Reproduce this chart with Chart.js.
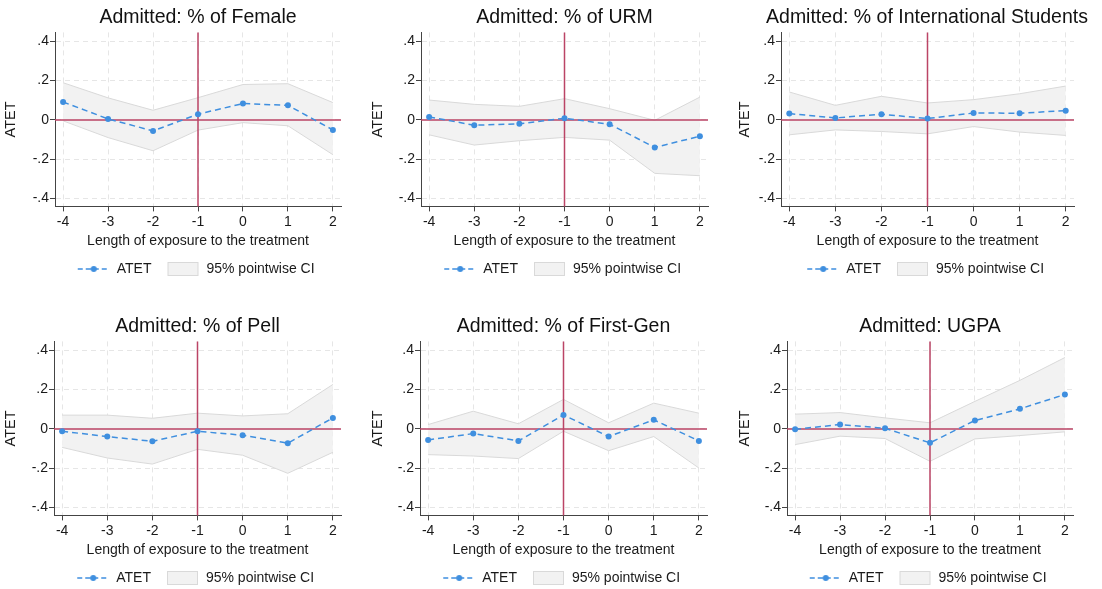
<!DOCTYPE html>
<html>
<head>
<meta charset="utf-8">
<script src="https://cdn.jsdelivr.net/npm/chart.js@4.4.1/dist/chart.umd.min.js"></script>
<style>
  html, body { margin: 0; padding: 0; background: #fff; overflow: hidden; }
  #wrap { position: relative; width: 1102px; height: 589px; overflow: hidden; }
  canvas { position: absolute; }
</style>
</head>
<body>
<div id="wrap"></div>
<script>
// exposure lengths and axis ticks
const xVals = [-4, -3, -2, -1, 0, 1, 2];
const yTicks = [-0.4, -0.2, 0, 0.2, 0.4];

const titles = [
  "Admitted: % of Female",
  "Admitted: % of URM",
  "Admitted: % of International Students",
  "Admitted: % of Pell",
  "Admitted: % of First-Gen",
  "Admitted: UGPA"
];

// point estimates and 95% CI bounds
const femaleAtet = [0.091, 0.005, -0.056, 0.029, 0.083, 0.074, -0.051];
const femaleLow  = [-0.005, -0.090, -0.157, -0.052, -0.014, -0.030, -0.177];
const femaleHigh = [0.189, 0.112, 0.049, 0.113, 0.180, 0.184, 0.088];

const urmAtet = [0.015, -0.027, -0.020, 0.008, -0.022, -0.140, -0.083];
const urmLow  = [-0.076, -0.128, -0.106, -0.089, -0.103, -0.272, -0.284];
const urmHigh = [0.101, 0.079, 0.069, 0.108, 0.057, -0.002, 0.116];

const intlAtet = [0.032, 0.010, 0.029, 0.007, 0.035, 0.034, 0.047];
const intlLow  = [-0.076, -0.051, -0.059, -0.071, -0.034, -0.062, -0.079];
const intlHigh = [0.142, 0.074, 0.120, 0.086, 0.103, 0.133, 0.172];

const pellAtet = [-0.012, -0.039, -0.063, -0.012, -0.032, -0.073, 0.056];
const pellLow  = [-0.094, -0.148, -0.179, -0.104, -0.134, -0.226, -0.119];
const pellHigh = [0.070, 0.070, 0.054, 0.080, 0.066, 0.077, 0.226];

const firstGenAtet = [-0.056, -0.024, -0.061, 0.071, -0.039, 0.046, -0.061];
const firstGenLow  = [-0.131, -0.138, -0.151, -0.012, -0.111, -0.039, -0.199];
const firstGenHigh = [0.022, 0.090, 0.026, 0.150, 0.031, 0.131, 0.080];

const ugpaAtet = [-0.002, 0.022, 0.003, -0.071, 0.043, 0.102, 0.175];
const ugpaLow  = [-0.080, -0.037, -0.049, -0.165, -0.051, -0.034, -0.015];
const ugpaHigh = [0.075, 0.083, 0.056, 0.031, 0.140, 0.247, 0.363];

const series = [
  [femaleAtet, femaleLow, femaleHigh],
  [urmAtet, urmLow, urmHigh],
  [intlAtet, intlLow, intlHigh],
  [pellAtet, pellLow, pellHigh],
  [firstGenAtet, firstGenLow, firstGenHigh],
  [ugpaAtet, ugpaLow, ugpaHigh]
];

// panel placement: canvas left/top/width, plot area left/right inside canvas
// (the long title of panel 3 is wider than its plot, so its canvas is widened
//  and the title spans the whole canvas)
const panelBox = [
  { left: 0,   top: 0,   w: 367, plotL: 55, plotR: 341 },
  { left: 367, top: 0,   w: 367, plotL: 54, plotR: 341 },
  { left: 734, top: 0,   w: 386, plotL: 47, plotR: 340, wideTitle: true },
  { left: 0,   top: 309, w: 367, plotL: 54, plotR: 341 },
  { left: 367, top: 309, w: 367, plotL: 53, plotR: 340 },
  { left: 734, top: 309, w: 368, plotL: 53, plotR: 339 }
];

const FONT = "'Liberation Sans', Arial, Helvetica, sans-serif";
const BLUE = "#3f8fdf";
const REF = "#bb4466";
const CI_FILL = "#f2f2f2";
const CI_LINE = "#d9d9d9";
const AXIS = "#444";
const TEXT = "#1a1a1a";

Chart.defaults.font.family = FONT;
Chart.defaults.color = TEXT;

/* legend icons */
function iconAtet() {
  const c = document.createElement("canvas");
  c.width = 40; c.height = 14;
  const g = c.getContext("2d");
  g.strokeStyle = BLUE;
  g.lineWidth = 1.5;
  g.setLineDash([5, 3]);
  g.beginPath();
  g.moveTo(8, 7); g.lineTo(40, 7);
  g.stroke();
  g.fillStyle = BLUE;
  g.beginPath();
  g.arc(24, 7, 3, 0, Math.PI * 2);
  g.fill();
  return c;
}

function iconCI() {
  const c = document.createElement("canvas");
  c.width = 40; c.height = 14;
  const g = c.getContext("2d");
  g.fillStyle = CI_FILL;
  g.strokeStyle = CI_LINE;
  g.lineWidth = 1;
  g.fillRect(8.5, 0.5, 30, 13);
  g.strokeRect(8.5, 0.5, 30, 13);
  return c;
}

const atetIcon = iconAtet();
const ciIcon = iconCI();

/* reference lines at x = -1 and y = 0, drawn under the ATET line */
const refLines = {
  id: "refLines",
  beforeDatasetDraw(chart, args) {
    if (args.index !== 2) return;
    const { ctx, chartArea, scales } = chart;
    const xp = scales.x.getPixelForValue(-1);
    const yp = scales.y.getPixelForValue(0);
    ctx.save();
    ctx.strokeStyle = REF;
    ctx.lineWidth = 1.5;
    ctx.beginPath();
    ctx.moveTo(chartArea.left, yp); ctx.lineTo(chartArea.right, yp);
    ctx.moveTo(xp, chartArea.top); ctx.lineTo(xp, chartArea.bottom);
    ctx.stroke();
    ctx.restore();
  }
};

function fmtY(v) {
  if (Math.abs(v) < 1e-9) return "0";
  const s = Math.abs(v).toFixed(1).replace(/^0/, "");
  return (v < 0 ? "-" : "") + s;
}

function toPoints(arr) {
  return xVals.map((x, i) => ({ x: x, y: arr[i] }));
}

function makePanel(i) {
  const box = panelBox[i];
  const [atet, low, high] = series[i];
  const cv = document.createElement("canvas");
  cv.width = box.w; cv.height = 290;
  cv.style.left = box.left + "px";
  cv.style.top = box.top + "px";
  document.getElementById("wrap").appendChild(cv);

  const gridOpts = {
    color: "#e6e6e6",
    lineWidth: 1,
    drawTicks: true,
    tickLength: 5,
    tickColor: AXIS,
    tickWidth: 1,
    tickBorderDash: []
  };

  const scales = {
    x: {
      type: "linear",
      min: -4.18,
      max: 2.18,
      afterBuildTicks: s => { s.ticks = xVals.map(v => ({ value: v })); },
      ticks: {
        font: { size: 14 },
        color: TEXT,
        padding: 2,
        maxRotation: 0,
        autoSkip: false,
        callback: v => String(v)
      },
      grid: gridOpts,
      border: { display: true, color: AXIS, width: 1, dash: [5, 4] },
      title: {
        display: true,
        text: "Length of exposure to the treatment",
        font: { size: 14 },
        color: TEXT,
        padding: { top: 1, bottom: 4 }
      }
    },
    y: {
      min: -0.44,
      max: 0.445,
      afterBuildTicks: s => { s.ticks = yTicks.map(v => ({ value: v })); },
      afterFit: s => { s.width = box.plotL; },
      ticks: {
        font: { size: 14 },
        color: TEXT,
        padding: 1,
        autoSkip: false,
        callback: v => fmtY(v)
      },
      grid: gridOpts,
      border: { display: true, color: AXIS, width: 1, dash: [5, 4] },
      title: {
        display: true,
        text: "ATET",
        font: { size: 14.5 },
        color: TEXT,
        padding: { top: 2, bottom: 4 }
      }
    }
  };

  // empty spacer on the right so a full-width title can be centred over the plot
  if (box.wideTitle) {
    scales.spacer = {
      type: "linear",
      position: "right",
      display: true,
      grid: { display: false, drawTicks: false },
      ticks: { display: false },
      border: { display: false },
      afterFit: s => { s.width = box.w - box.plotR; }
    };
  }

  new Chart(cv, {
    type: "line",
    data: {
      datasets: [
        {
          label: "upper",
          data: toPoints(high),
          borderColor: CI_LINE,
          borderWidth: 1,
          backgroundColor: CI_FILL,
          fill: "+1",
          pointRadius: 0,
          tension: 0,
          order: 2
        },
        {
          label: "lower",
          data: toPoints(low),
          borderColor: CI_LINE,
          borderWidth: 1,
          fill: false,
          pointRadius: 0,
          tension: 0,
          order: 1
        },
        {
          label: "ATET",
          data: toPoints(atet),
          borderColor: BLUE,
          borderWidth: 1.5,
          borderDash: [6, 4],
          pointRadius: 3,
          pointBackgroundColor: BLUE,
          pointBorderWidth: 0,
          fill: false,
          tension: 0,
          order: 0
        }
      ]
    },
    options: {
      responsive: false,
      animation: false,
      devicePixelRatio: 1,
      layout: {
        padding: { left: 0, right: box.wideTitle ? 0 : box.w - box.plotR, top: 0, bottom: 4 }
      },
      scales: scales,
      plugins: {
        title: {
          display: true,
          text: titles[i],
          fullSize: !!box.wideTitle,
          font: { size: 19.5, weight: "normal" },
          color: "#111",
          padding: { top: 6, bottom: 3 }
        },
        legend: {
          display: true,
          position: "bottom",
          fullSize: false,
          labels: {
            usePointStyle: true,
            pointStyleWidth: 40,
            padding: 8,
            font: { size: 14 },
            color: TEXT,
            generateLabels: () => [
              { text: "ATET", pointStyle: atetIcon, fillStyle: "transparent", strokeStyle: "transparent", lineWidth: 0, hidden: false, fontColor: TEXT },
              { text: "95% pointwise CI\u00a0\u00a0\u00a0", pointStyle: ciIcon, fillStyle: "transparent", strokeStyle: "transparent", lineWidth: 0, hidden: false, fontColor: TEXT }
            ]
          }
        },
        tooltip: { enabled: false }
      }
    },
    plugins: [refLines]
  });
}

for (let i = 0; i < 6; i++) makePanel(i);
</script>
</body>
</html>
